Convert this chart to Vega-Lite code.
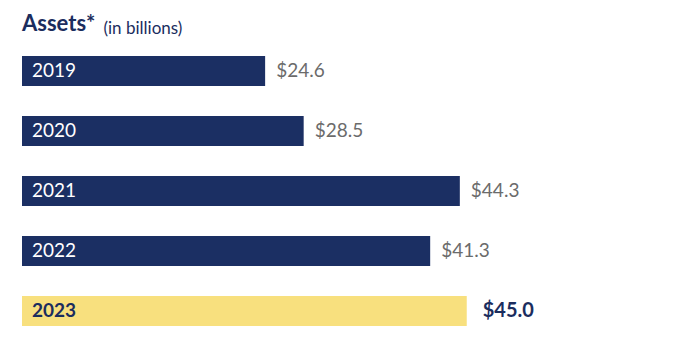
{
  "$schema": "https://vega.github.io/schema/vega-lite/v6.json",
  "width": 593,
  "height": 300,
  "autosize": {"type": "none"},
  "padding": {"left": 22, "top": 41, "right": 85, "bottom": 9},
  "background": "white",
  "title": {
    "text": "Assets*",
    "anchor": "start",
    "frame": "group",
    "font": "Lato",
    "fontSize": 22,
    "fontWeight": "bold",
    "color": "#1b2d5e",
    "offset": -17
  },
  "data": {
    "values": [
      {"year": "2019", "assets": 24.6, "label": "$24.6"},
      {"year": "2020", "assets": 28.5, "label": "$28.5"},
      {"year": "2021", "assets": 44.3, "label": "$44.3"},
      {"year": "2022", "assets": 41.3, "label": "$41.3"},
      {"year": "2023", "assets": 45.0, "label": "$45.0"}
    ]
  },
  "encoding": {
    "y": {
      "field": "year",
      "type": "nominal",
      "sort": null,
      "axis": null,
      "scale": {"paddingInner": 0.5, "paddingOuter": 0.25}
    }
  },
  "layer": [
    {
      "mark": {"type": "bar", "cornerRadius": 0},
      "encoding": {
        "x": {
          "field": "assets",
          "type": "quantitative",
          "scale": {"domain": [0, 60], "nice": false, "zero": true},
          "axis": {
            "orient": "top",
            "title": "(in billions)",
            "titleAnchor": "start",
            "titleAlign": "left",
            "titleBaseline": "alphabetic",
            "titleX": 81,
            "titleY": -8,
            "titleFont": "Lato",
            "titleFontSize": 17,
            "titleFontWeight": "normal",
            "titleColor": "#1b2d5e",
            "domain": false,
            "ticks": false,
            "labels": false,
            "grid": false
          }
        },
        "color": {
          "condition": {"test": "datum.year === '2023'", "value": "#f8e07e"},
          "value": "#1b2f63"
        }
      }
    },
    {
      "transform": [{"filter": "datum.year !== '2023'"}],
      "mark": {"type": "text", "align": "left", "baseline": "middle", "dx": 10, "font": "Lato", "fontSize": 19, "color": "#ffffff"},
      "encoding": {
        "x": {"datum": 0, "type": "quantitative"},
        "text": {"field": "year"}
      }
    },
    {
      "transform": [{"filter": "datum.year !== '2023'"}],
      "mark": {"type": "text", "align": "left", "baseline": "middle", "dx": 11, "font": "Lato", "fontSize": 19, "color": "#6b6b6b"},
      "encoding": {
        "x": {"field": "assets", "type": "quantitative"},
        "text": {"field": "label"}
      }
    },
    {
      "transform": [{"filter": "datum.year === '2023'"}],
      "mark": {"type": "text", "align": "left", "baseline": "middle", "dx": 10, "font": "Lato", "fontSize": 19, "fontWeight": "bold", "color": "#1b2d5e"},
      "encoding": {
        "x": {"datum": 0, "type": "quantitative"},
        "text": {"field": "year"}
      }
    },
    {
      "transform": [{"filter": "datum.year === '2023'"}],
      "mark": {"type": "text", "align": "left", "baseline": "middle", "dx": 16, "font": "Lato", "fontSize": 20, "fontWeight": "bold", "color": "#1b2d5e"},
      "encoding": {
        "x": {"field": "assets", "type": "quantitative"},
        "text": {"field": "label"}
      }
    }
  ],
  "config": {"view": {"stroke": null}}
}
